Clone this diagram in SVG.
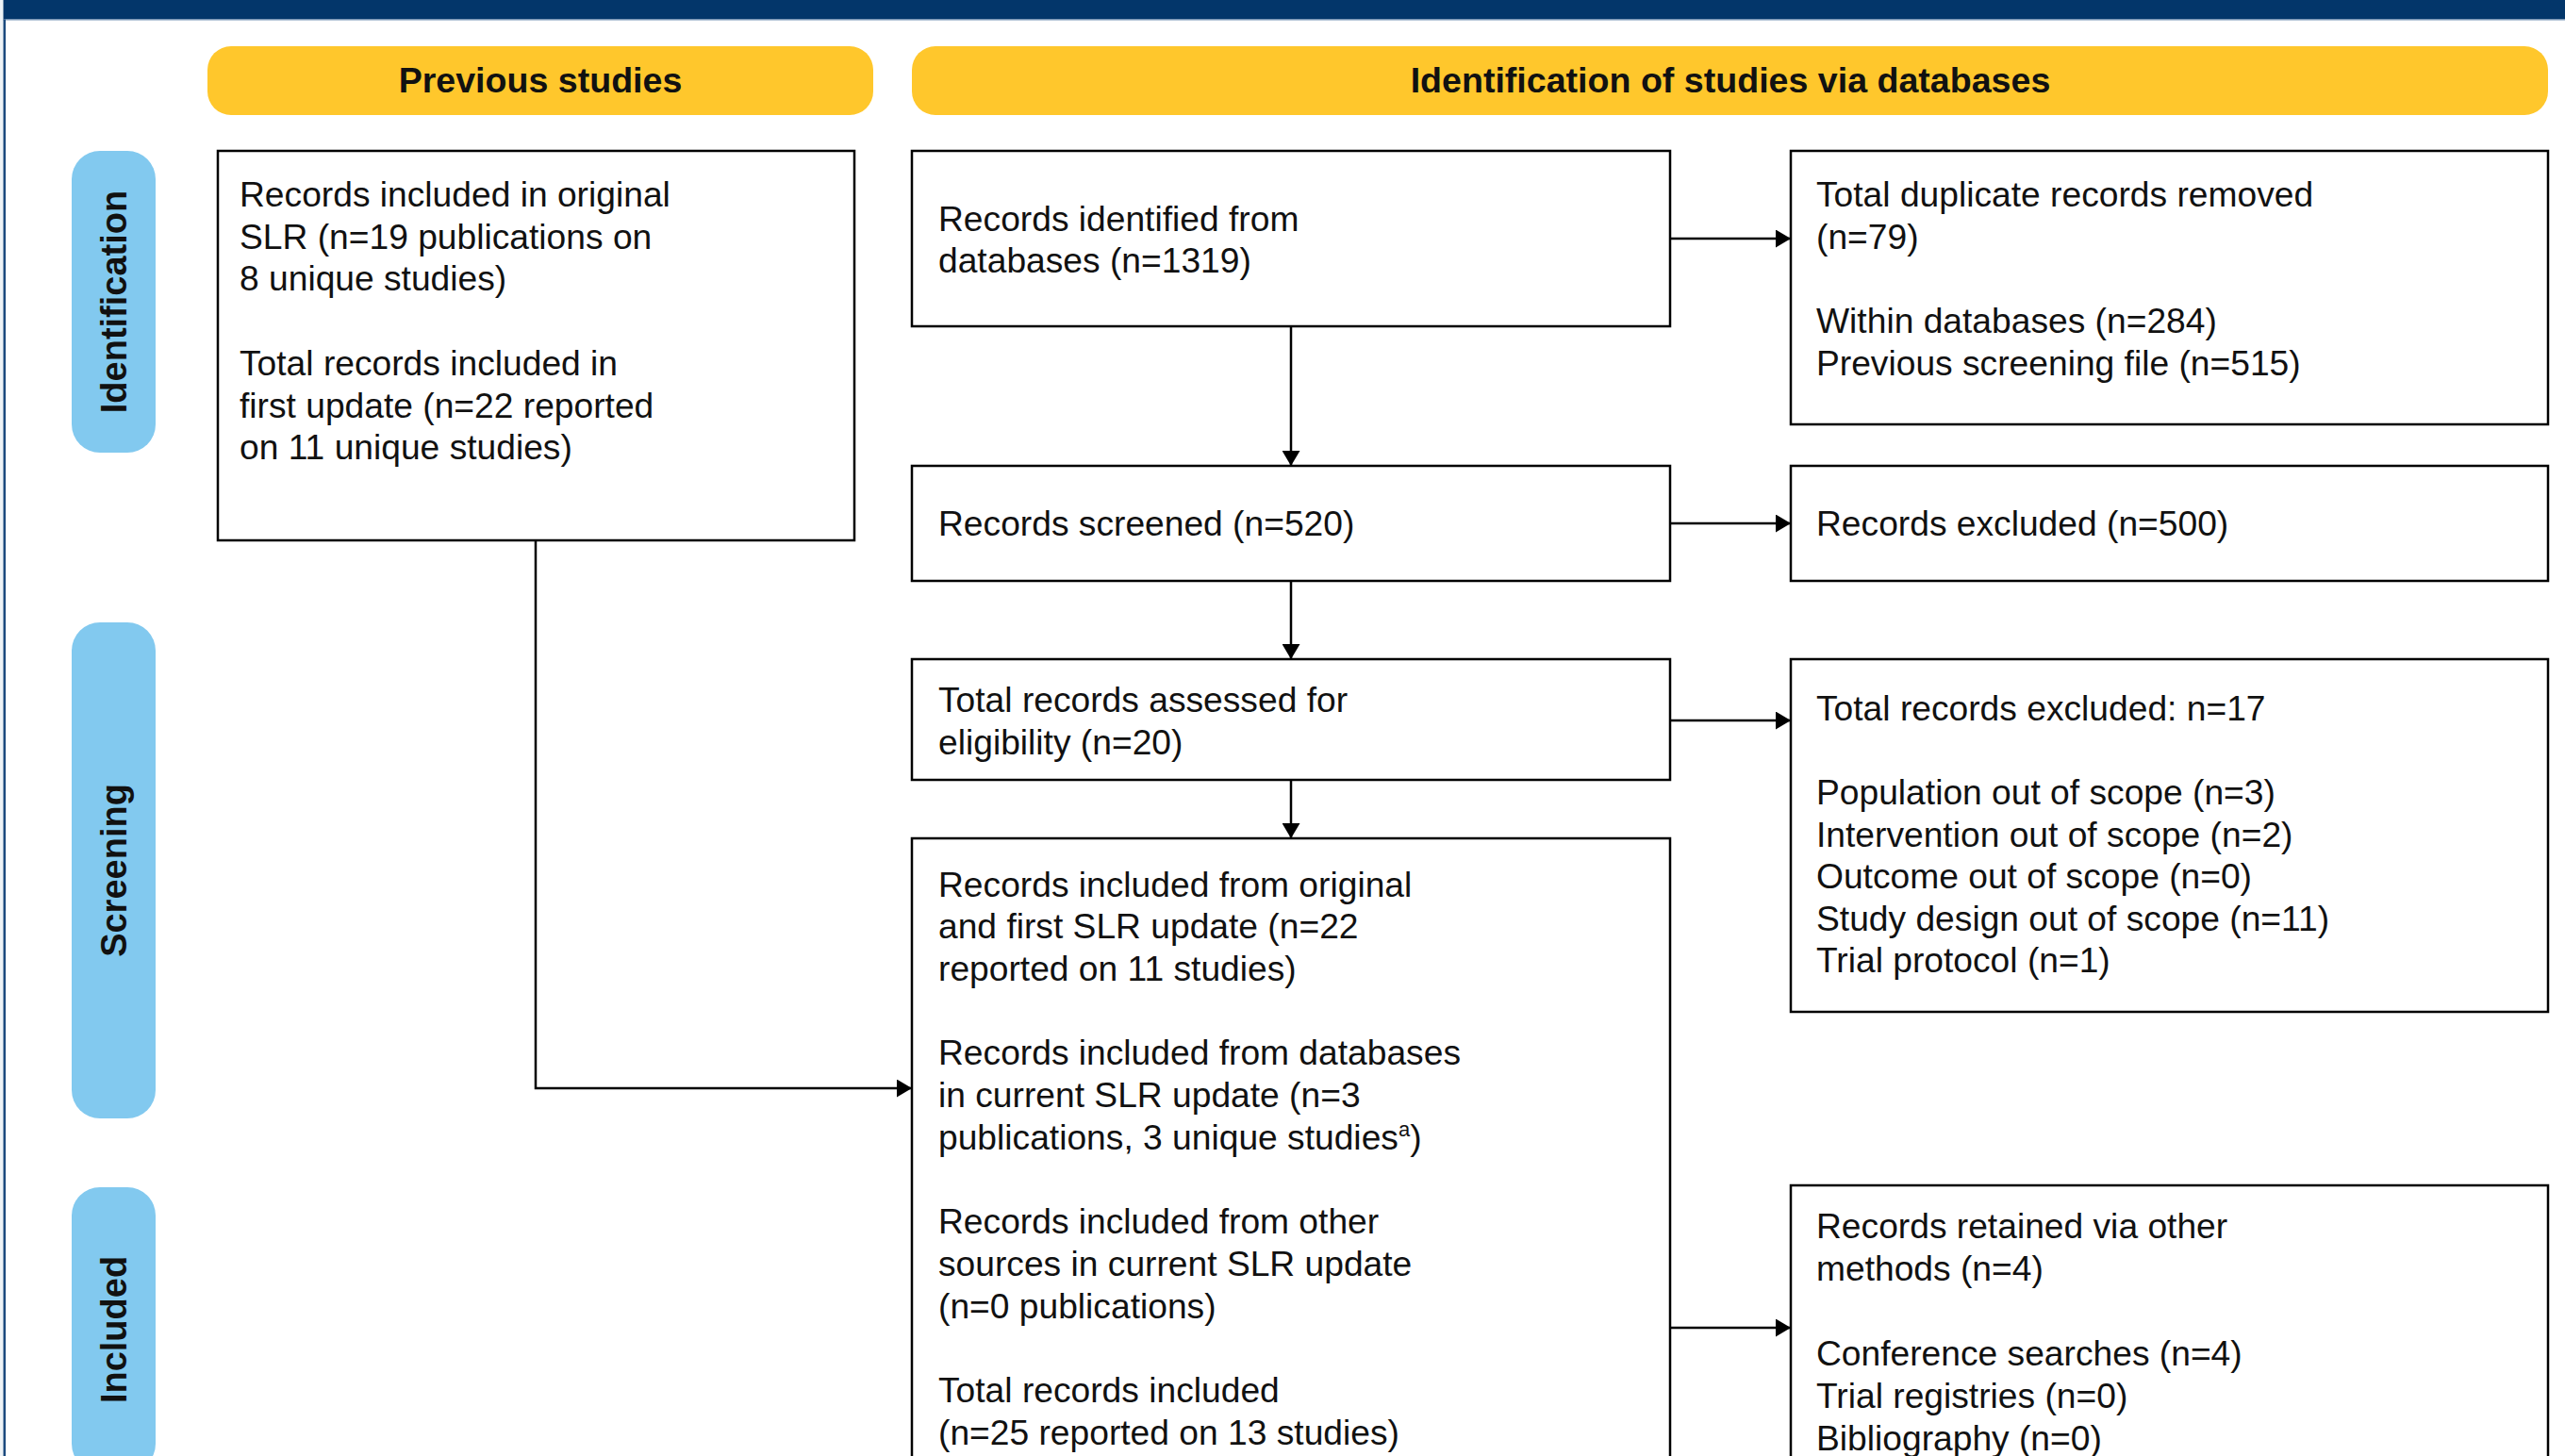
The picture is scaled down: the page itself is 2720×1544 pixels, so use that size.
<svg xmlns="http://www.w3.org/2000/svg" width="2720" height="1544" viewBox="0 0 2720 1544">
<style>
.box{fill:#ffffff;stroke:#000000;stroke-width:2.5}
.t{font-family:"Liberation Sans",Arial,sans-serif;font-size:37.2px;fill:#111111}
.hd{font-family:"Liberation Sans",Arial,sans-serif;font-size:37.6px;font-weight:bold;fill:#111111;text-anchor:middle}
.side{font-family:"Liberation Sans",Arial,sans-serif;font-size:38px;font-weight:bold;fill:#111111;text-anchor:middle}
.pillY{fill:#FFC72C}
.pillB{fill:#82C9EF}
.con{fill:none;stroke:#000000;stroke-width:2.5}
</style>
<defs>
<marker id="arr" markerUnits="userSpaceOnUse" markerWidth="16" markerHeight="19" refX="16" refY="9.5" orient="auto">
<path d="M0,0 L16,9.5 L0,19 Z" fill="#000000"/>
</marker>
</defs>
<rect x="0" y="0" width="2720" height="1544" fill="#ffffff"/>
<g id="frame">
<rect x="0" y="0" width="3.5" height="1544" fill="#EEF3F6"/>
<rect x="3.5" y="0" width="2716.5" height="20.5" fill="#03366A"/>
<rect x="3.5" y="20.5" width="2716.5" height="1" fill="#7090B4"/>
<rect x="3.5" y="20.5" width="2.5" height="1523.5" fill="#1B4A7E"/>
</g>
<g id="hdr-previous">
<rect class="pillY" x="220" y="49" width="706" height="73" rx="25"/>
<text class="hd" x="573" y="98">Previous studies</text>
</g>
<g id="hdr-identification">
<rect class="pillY" x="967" y="49" width="1735" height="73" rx="25"/>
<text class="hd" x="1835" y="98">Identification of studies via databases</text>
</g>
<g id="side-identification">
<rect class="pillB" x="76" y="160" width="89" height="320" rx="30"/>
<text class="side" transform="translate(134,320) rotate(-90)">Identification</text>
</g>
<g id="side-screening">
<rect class="pillB" x="76" y="660" width="89" height="526" rx="30"/>
<text class="side" transform="translate(134,923) rotate(-90)">Screening</text>
</g>
<g id="side-included">
<rect class="pillB" x="76" y="1259" width="89" height="302" rx="30"/>
<text class="side" transform="translate(134,1410) rotate(-90)">Included</text>
</g>
<g id="connectors">
<line class="con" x1="1369" y1="346" x2="1369" y2="494" marker-end="url(#arr)"/>
<line class="con" x1="1771" y1="253" x2="1899" y2="253" marker-end="url(#arr)"/>
<line class="con" x1="1771" y1="555" x2="1899" y2="555" marker-end="url(#arr)"/>
<line class="con" x1="1369" y1="616" x2="1369" y2="699" marker-end="url(#arr)"/>
<line class="con" x1="1771" y1="764" x2="1899" y2="764" marker-end="url(#arr)"/>
<line class="con" x1="1369" y1="827" x2="1369" y2="889" marker-end="url(#arr)"/>
<path class="con" d="M568,573 L568,1154 L967,1154" marker-end="url(#arr)"/>
<line class="con" x1="1771" y1="1408" x2="1899" y2="1408" marker-end="url(#arr)"/>
</g>
<g id="previous-records">
<rect class="box" x="231" y="160" width="675" height="413"/>
<text class="t" x="254" y="219">Records included in original</text>
<text class="t" x="254" y="263.7">SLR (n=19 publications on</text>
<text class="t" x="254" y="308.4">8 unique studies)</text>
<text class="t" x="254" y="397.8">Total records included in</text>
<text class="t" x="254" y="442.5">first update (n=22 reported</text>
<text class="t" x="254" y="487.2">on 11 unique studies)</text>
</g>
<g id="records-identified">
<rect class="box" x="967" y="160" width="804" height="186"/>
<text class="t" x="995" y="244.6">Records identified from</text>
<text class="t" x="995" y="289.2">databases (n=1319)</text>
</g>
<g id="duplicates-removed">
<rect class="box" x="1899" y="160" width="803" height="290"/>
<text class="t" x="1926" y="219">Total duplicate records removed</text>
<text class="t" x="1926" y="263.7">(n=79)</text>
<text class="t" x="1926" y="353">Within databases (n=284)</text>
<text class="t" x="1926" y="397.6">Previous screening file (n=515)</text>
</g>
<g id="records-screened">
<rect class="box" x="967" y="494" width="804" height="122"/>
<text class="t" x="995" y="568">Records screened (n=520)</text>
</g>
<g id="records-excluded">
<rect class="box" x="1899" y="494" width="803" height="122"/>
<text class="t" x="1926" y="568">Records excluded (n=500)</text>
</g>
<g id="records-assessed">
<rect class="box" x="967" y="699" width="804" height="128"/>
<text class="t" x="995" y="754.5">Total records assessed for</text>
<text class="t" x="995" y="800">eligibility (n=20)</text>
</g>
<g id="records-excluded-total">
<rect class="box" x="1899" y="699" width="803" height="374"/>
<text class="t" x="1926" y="764">Total records excluded: n=17</text>
<text class="t" x="1926" y="853">Population out of scope (n=3)</text>
<text class="t" x="1926" y="897.5">Intervention out of scope (n=2)</text>
<text class="t" x="1926" y="942">Outcome out of scope (n=0)</text>
<text class="t" x="1926" y="986.5">Study design out of scope (n=11)</text>
<text class="t" x="1926" y="1031">Trial protocol (n=1)</text>
</g>
<g id="records-included">
<rect class="box" x="967" y="889" width="804" height="700"/>
<text class="t" x="995" y="950.5">Records included from original</text>
<text class="t" x="995" y="995.2">and first SLR update (n=22</text>
<text class="t" x="995" y="1039.9">reported on 11 studies)</text>
<text class="t" x="995" y="1129.3">Records included from databases</text>
<text class="t" x="995" y="1174">in current SLR update (n=3</text>
<text class="t" x="995" y="1218.7">publications, 3 unique studies<tspan font-size="22" dy="-14">a</tspan><tspan dy="14">)</tspan></text>
<text class="t" x="995" y="1308.1">Records included from other</text>
<text class="t" x="995" y="1352.8">sources in current SLR update</text>
<text class="t" x="995" y="1397.5">(n=0 publications)</text>
<text class="t" x="995" y="1486.9">Total records included</text>
<text class="t" x="995" y="1531.6">(n=25 reported on 13 studies)</text>
</g>
<g id="records-retained">
<rect class="box" x="1899" y="1257" width="803" height="340"/>
<text class="t" x="1926" y="1313">Records retained via other</text>
<text class="t" x="1926" y="1358">methods (n=4)</text>
<text class="t" x="1926" y="1448">Conference searches (n=4)</text>
<text class="t" x="1926" y="1493">Trial registries (n=0)</text>
<text class="t" x="1926" y="1537.5">Bibliography (n=0)</text>
</g>
</svg>
